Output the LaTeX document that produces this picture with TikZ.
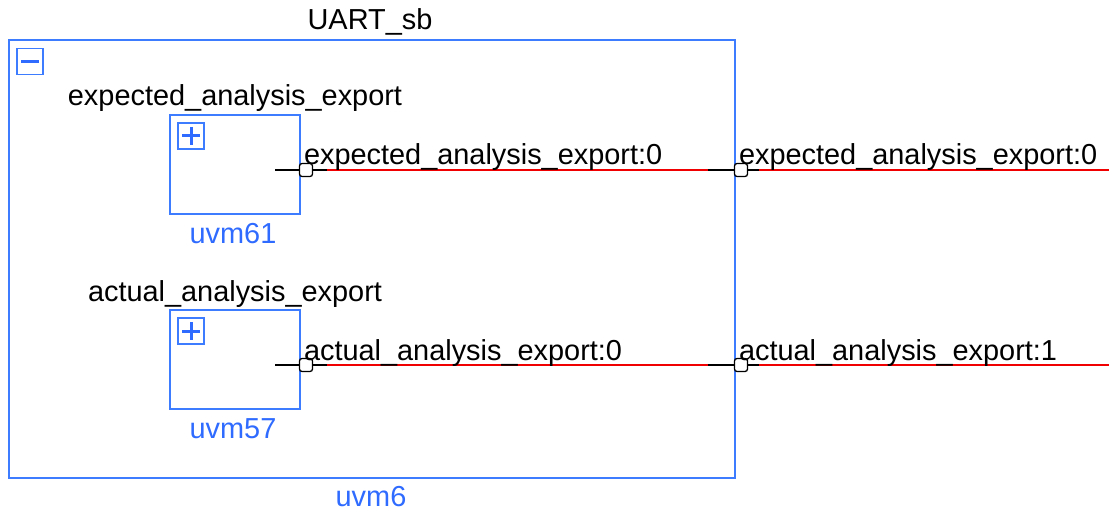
\documentclass[tikz,border=0pt]{standalone}
\usepackage{fontspec}
\setmainfont{Liberation Sans}
\usetikzlibrary{backgrounds}
\definecolor{frameblue}{HTML}{3D7BFF}
\definecolor{namblue}{HTML}{2F6BFF}
\definecolor{wirered}{HTML}{F00000}
\tikzset{
  x=1pt, y=-1pt,
  every node/.style={inner sep=0pt, outer sep=0pt},
  lbl/.style={font=\fontsize{28.9}{34}\selectfont, text=black},
  inst/.style={font=\fontsize{28.9}{34}\selectfont, text=namblue},
  blk/.style={draw=frameblue, line width=1.3pt, fill=none},
  btn/.style={draw=frameblue, line width=1.4pt, minimum width=26pt, minimum height=26pt},
  sign/.style={draw=namblue, line width=3pt},
  port/.style={draw=black, fill=white, line width=1.3pt, rounded corners=2.5pt,
               minimum width=13pt, minimum height=13pt},
  stub/.style={draw=black, line width=1.2pt},
  wire/.style={draw=wirered, line width=1.2pt}
}
\begin{document}
\begin{tikzpicture}
\useasboundingbox (0,0) rectangle (1109,516);

% scoreboard frame
\node[blk, minimum width=726pt, minimum height=438pt] (sb) at (372,259) {};
\node[lbl, anchor=base] (sbname) at (370,30) {UART\_sb};
\node[inst, anchor=base] (sbinst) at (371,506) {uvm6};
\node[btn] (collapse) at (30,61.5) {};
\draw[sign] (collapse.center) ++(-9,0) -- ++(18,0);

% expected analysis export
\node[blk, minimum width=130pt, minimum height=99pt] (exp) at (235,164.5) {};
\node[lbl, anchor=base] (expname) at (235,106) {expected\_analysis\_export};
\node[inst, anchor=base] (expinst) at (233,243) {uvm61};
\node[btn] (expbtn) at (191,136) {};
\draw[sign] (expbtn.center) ++(-9,0) -- ++(18,0)
      (expbtn.center) ++(0,-9) -- ++(0,18);

% actual analysis export
\node[blk, minimum width=130pt, minimum height=99pt] (act) at (235,359.5) {};
\node[lbl, anchor=base] (actname) at (235,301) {actual\_analysis\_export};
\node[inst, anchor=base] (actinst) at (233,438) {uvm57};
\node[btn] (actbtn) at (191,331) {};
\draw[sign] (actbtn.center) ++(-9,0) -- ++(18,0)
      (actbtn.center) ++(0,-9) -- ++(0,18);

% ports
\node[port] (pe1) at (306,170) {};
\node[port] (pe2) at (741,170) {};
\node[port] (pa1) at (306,365) {};
\node[port] (pa2) at (741,365) {};
\coordinate (eend) at (1109,170);
\coordinate (aend) at (1109,365);

% port labels
\node[lbl, anchor=base west] at (304,165) {expected\_analysis\_export:0};
\node[lbl, anchor=base west] at (739,165) {expected\_analysis\_export:0};
\node[lbl, anchor=base west] at (304,360) {actual\_analysis\_export:0};
\node[lbl, anchor=base west] at (739,360) {actual\_analysis\_export:1};

% connections
\begin{scope}[on background layer]
  \draw[stub] ([xshift=-31pt]pe1.center) -- ([xshift=21pt]pe1.center);
  \draw[wire] ([xshift=21pt]pe1.center) -- ([xshift=-33pt]pe2.center);
  \draw[stub] ([xshift=-33pt]pe2.center) -- ([xshift=18pt]pe2.center);
  \draw[wire] ([xshift=18pt]pe2.center) -- (eend);
  \draw[stub] ([xshift=-31pt]pa1.center) -- ([xshift=21pt]pa1.center);
  \draw[wire] ([xshift=21pt]pa1.center) -- ([xshift=-33pt]pa2.center);
  \draw[stub] ([xshift=-33pt]pa2.center) -- ([xshift=18pt]pa2.center);
  \draw[wire] ([xshift=18pt]pa2.center) -- (aend);
\end{scope}
\end{tikzpicture}
\end{document}
